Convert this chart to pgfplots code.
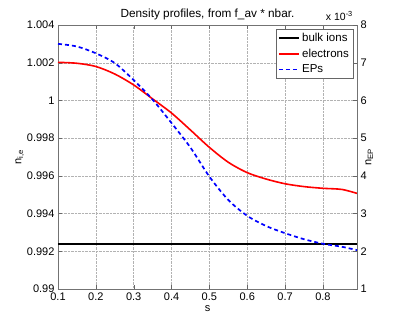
\documentclass[border=0pt]{standalone}
\usepackage{fontspec}
\setmainfont{Liberation Sans}
\usepackage{pgfplots}
\pgfplotsset{compat=1.18}
\begin{document}
\begin{tikzpicture}
  \pgfplotsset{
    common/.style={
      scale only axis,
      width=299pt,height=264pt,
      xmin=0.1,xmax=0.89,
      xtick={0.1,0.2,...,0.8},
      xticklabels={0.1,0.2,0.3,0.4,0.5,0.6,0.7,0.8},
      tick align=inside,
      tick style={black!60},
      axis line style={black!55},
      tick label style={font=\fontsize{11}{12}\selectfont},
      label style={font=\fontsize{11}{12}\selectfont},
      /pgf/number format/assume math mode=true,
    }
  }
  \begin{axis}[common,name=ax,
      ymin=0.99,ymax=1.004,
      ytick={0.99,0.992,0.994,0.996,0.998,1,1.002,1.004},
      yticklabels={0.99,0.992,0.994,0.996,0.998,1,1.002,1.004},
      grid=major,
      grid style={black!30,densely dotted,line width=0.4pt},
      xlabel={s},
      ylabel={n\textsubscript{i,e}},
      xlabel style={yshift=2pt},
      ylabel style={yshift=-4pt},
      title={Density profiles, from f\_av * nbar.},
      title style={font=\fontsize{11.8}{13}\selectfont,yshift=-4pt},
      legend style={at={(1,1)},anchor=north east,xshift=-4pt,yshift=-4pt,
        font=\fontsize{11.5}{13}\selectfont,draw=black!60,
        inner sep=2pt,row sep=2pt,
        legend cell align=left},
      legend image code/.code={\draw[#1] (0cm,0cm) -- (0.72cm,0cm);},
    ]
    \addplot[black,line width=1.3pt] coordinates {(0.1,0.99239)(0.89,0.99239)};
    \addlegendentry{bulk ions}
    \addplot[red,line width=1.6pt,smooth] coordinates {
      (0.1,1.00202)(0.15,1.00197)(0.2,1.00180)(0.25,1.00140)(0.3,1.00082)
      (0.35,1.00008)(0.4,0.99933)(0.45,0.99843)(0.5,0.99751)(0.55,0.99672)
      (0.6,0.99617)(0.65,0.99583)(0.7,0.99558)(0.75,0.99543)(0.8,0.99534)
      (0.85,0.99528)(0.89,0.99507)};
    \addlegendentry{electrons}
    \addlegendimage{blue,line width=1.6pt,dash pattern=on 4pt off 3pt}
    \addlegendentry{EPs}
  \end{axis}
  \begin{axis}[common,
      axis x line=none,
      axis y line*=right,
      ymin=1,ymax=8,
      ytick={1,2,...,8},
      ylabel={n\textsubscript{EP}},
      ylabel style={yshift=8pt},
    ]
    \addplot[blue,line width=1.7pt,dash pattern=on 4pt off 3pt,smooth] coordinates {
      (0.1,7.50)(0.15,7.43)(0.2,7.25)(0.25,6.99)(0.3,6.54)(0.35,6.02)
      (0.4,5.40)(0.45,4.75)(0.5,3.98)(0.55,3.36)(0.6,2.94)(0.65,2.67)
      (0.7,2.48)(0.75,2.32)(0.8,2.20)(0.85,2.12)(0.89,2.03)};
  \end{axis}
  \node[anchor=south east,font=\fontsize{10.5}{12}\selectfont,inner sep=0pt]
    at ([xshift=-4pt,yshift=4pt]ax.north east) {x 10\textsuperscript{-3}};
  \pgfresetboundingbox
  \path ([xshift=-58pt,yshift=-37pt]ax.south west) rectangle ([xshift=36pt,yshift=25pt]ax.north east);
\end{tikzpicture}
\end{document}
